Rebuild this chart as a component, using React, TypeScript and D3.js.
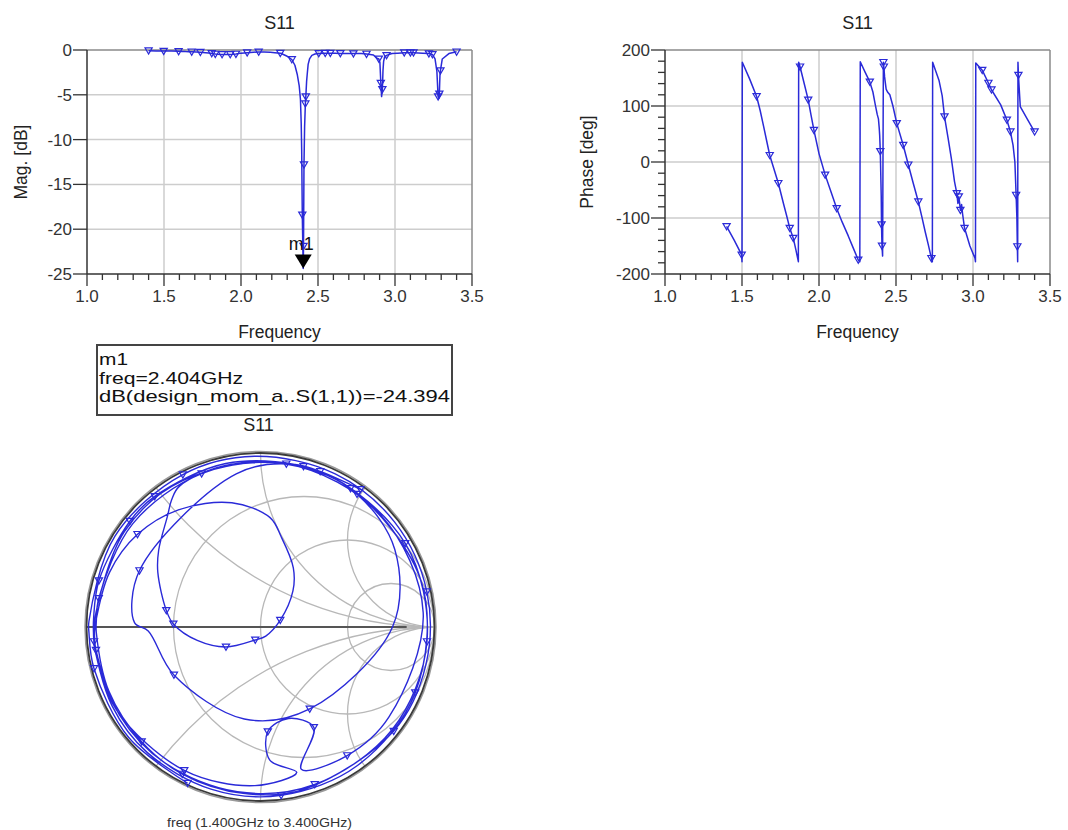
import * as d3 from "d3";

const FONT = "'Liberation Sans', Arial, Helvetica, sans-serif";
const BLUE = "#2a2ad8";
const INK = "#333";
const GRID = "#cdcdcd";

// S11 sweep: GHz, dB, degrees
const freq = [
  1.4, 1.45, 1.498, 1.5, 1.502, 1.55, 1.595, 1.618, 1.64, 1.66,
  1.68, 1.708, 1.736, 1.77, 1.79, 1.81, 1.833, 1.85, 1.866, 1.868,
  1.877, 1.903, 1.93, 1.948, 1.967, 2.0, 2.04, 2.08, 2.115, 2.15,
  2.19, 2.22, 2.255, 2.265, 2.268, 2.3, 2.33, 2.35, 2.365, 2.378,
  2.386, 2.391, 2.394, 2.398, 2.404, 2.406, 2.409, 2.413, 2.418, 2.421,
  2.426, 2.43, 2.436, 2.445, 2.46, 2.48, 2.505, 2.547, 2.58, 2.612,
  2.645, 2.668, 2.69, 2.71, 2.73, 2.736, 2.738, 2.78, 2.8, 2.815,
  2.838, 2.86, 2.88, 2.895, 2.902, 2.908, 2.913, 2.918, 2.922, 2.926, 2.932,
  2.945, 2.98, 3.013, 3.016, 3.018, 3.06, 3.1, 3.12, 3.18, 3.22,
  3.243, 3.26, 3.272, 3.28, 3.285, 3.288, 3.29, 3.292, 3.295, 3.307,
  3.35, 3.4,
];
const magDb = [
  -0.08, -0.1, -0.12, -0.12, -0.12, -0.12, -0.15, -0.16, -0.18, -0.19,
  -0.2, -0.22, -0.25, -0.3, -0.34, -0.38, -0.45, -0.48, -0.5, -0.5,
  -0.5, -0.5, -0.5, -0.48, -0.45, -0.35, -0.3, -0.25, -0.22, -0.23,
  -0.25, -0.3, -0.35, -0.4, -0.45, -0.7, -1.06, -1.7, -2.7, -4.0,
  -5.5, -8.2, -11.1, -18.4, -24.394, -21.9, -12.8, -8.6, -6.0, -5.2,
  -3.5, -2.7, -1.6, -1.0, -0.6, -0.45, -0.38, -0.35, -0.35, -0.36,
  -0.38, -0.39, -0.4, -0.4, -0.4, -0.4, -0.4, -0.4, -0.42, -0.45,
  -0.5, -0.55, -0.9, -1.0, -1.4, -3.7, -5.2, -4.4, -2.3, -1.3, -0.8,
  -0.6, -0.4, -0.35, -0.35, -0.35, -0.3, -0.3, -0.3, -0.35, -0.4,
  -0.5, -1.0, -2.4, -5.2, -5.4, -4.9, -3.8, -2.8, -2.3, -1.0,
  -0.4, -0.2,
];
const phaseDeg = [
  -115, -140, -166, -178, 178, 148, 117, 92, 64, 38,
  12, -13, -38, -75, -96, -118, -136, -157, -178, 178,
  170, 141, 111, 84, 57, 15, -23, -55, -83, -107,
  -132, -152, -175, -178, 179, 160, 143, 125, 103, 85,
  77, 61, 48, 19, -60, -112, -150, -168, 178, 170,
  152, 143, 130, 125, 120, 100, 69, 30, -5, -38,
  -71, -98, -125, -148, -172, -178, 178, 145, 118, 81,
  43, 5, -35, -56, -74, -62, -73, -86, -86, -76, -92,
  -118, -150, -172, -178, 177, 164, 141, 129, 102, 75,
  54, 30, 0, -59, -100, -151, -178, 178, 155, 99,
  78, 54,
];
// sweep points that carry a symbol
const symbolFreqs = [
  1.4, 1.498, 1.595, 1.68, 1.736, 1.81, 1.833, 1.877, 1.93, 1.967, 2.04, 2.115, 2.255, 2.33, 2.398,
  2.406, 2.409, 2.418, 2.421, 2.505, 2.547, 2.58, 2.645, 2.73, 2.815, 2.895, 2.908, 2.918, 2.945,
  3.06, 3.1, 3.12, 3.22, 3.243, 3.28, 3.288, 3.295, 3.4,
];

const freqTicks = [1.0, 1.5, 2.0, 2.5, 3.0, 3.5];
const magTicks = [0, -5, -10, -15, -20, -25];
const phaseTicks = [200, 100, 0, -100, -200];

// Smith grid: resistance circles and reactance arcs
const rCircles = [1 / 3, 1, 3];
const xArcs = [0.5, 1, 2, -0.5, -1, -2];

const markerName = "m1";
const markerFreq = 2.404;
const traceExpr = "design_mom_a..S(1,1)";

type P = { f: number; db: number; ph: number; sym: boolean };
const pts: P[] = freq.map((f, i) => ({
  f,
  db: magDb[i],
  ph: phaseDeg[i],
  sym: symbolFreqs.includes(f),
}));

const TRI = "M-3.6,-2.8L3.6,-2.8L0,3.4Z";

type Box = { l: number; r: number; t: number; b: number };

function RectPlot({
  box,
  yDomain,
  yTicks,
  yMinor,
  yLabel,
  labelX,
  value,
  children,
}: {
  box: Box;
  yDomain: [number, number];
  yTicks: number[];
  yMinor: boolean;
  yLabel: string;
  labelX: number;
  value: (d: P) => number;
  children?: (x: d3.ScaleLinear<number, number>, y: d3.ScaleLinear<number, number>) => any;
}) {
  const x = d3.scaleLinear().domain([1, 3.5]).range([box.l, box.r]);
  const y = d3.scaleLinear().domain(yDomain).range([box.b, box.t]);
  const line = d3
    .line<P>()
    .x((d) => x(d.f))
    .y((d) => y(value(d)));
  const isMajor = (arr: number[], t: number) => arr.some((m) => Math.abs(m - t) < 1e-6);
  const xMinor = x.ticks(25).filter((t) => !isMajor(freqTicks, t));
  const yMinorTicks = yMinor ? y.ticks(20).filter((t) => !isMajor(yTicks, t)) : [];
  const cx = (box.l + box.r) / 2;

  return (
    <g fontFamily={FONT}>
      <text x={cx} y={28.5} textAnchor="middle" fontSize={18} fill="#222">
        S11
      </text>
      {/* grid */}
      {freqTicks.slice(1, -1).map((t) => (
        <line key={`gx${t}`} x1={x(t)} x2={x(t)} y1={box.t} y2={box.b} stroke={GRID} strokeWidth={1.5} />
      ))}
      {yTicks.slice(1, -1).map((t) => (
        <line key={`gy${t}`} x1={box.l} x2={box.r} y1={y(t)} y2={y(t)} stroke={GRID} strokeWidth={1.5} />
      ))}
      {/* frame */}
      <line x1={box.l} x2={box.r} y1={box.t} y2={box.t} stroke="#8a8a8a" strokeWidth={1.5} />
      <line x1={box.r} x2={box.r} y1={box.t} y2={box.b} stroke="#8a8a8a" strokeWidth={1.5} />
      <line x1={box.l} x2={box.l} y1={box.t} y2={box.b} stroke={INK} strokeWidth={1.5} />
      <line x1={box.l} x2={box.r} y1={box.b} y2={box.b} stroke={INK} strokeWidth={1.5} />
      {/* y ticks */}
      {yTicks.map((t) => (
        <g key={`yt${t}`}>
          <line x1={box.l - 14} x2={box.l} y1={y(t)} y2={y(t)} stroke={INK} strokeWidth={1.3} />
          <text x={box.l - 15} y={y(t) + 6} textAnchor="end" fontSize={17} fill={INK}>
            {t}
          </text>
        </g>
      ))}
      {yMinorTicks.map((t) => (
        <line key={`ym${t}`} x1={box.l - 7} x2={box.l} y1={y(t)} y2={y(t)} stroke={INK} strokeWidth={1.3} />
      ))}
      {/* x ticks */}
      {freqTicks.map((t) => (
        <g key={`xt${t}`}>
          <line x1={x(t)} x2={x(t)} y1={box.b} y2={box.b + 12} stroke={INK} strokeWidth={1.3} />
          <text x={x(t)} y={302} textAnchor="middle" fontSize={17} fill={INK}>
            {t.toFixed(1)}
          </text>
        </g>
      ))}
      {xMinor.map((t) => (
        <line key={`xm${t}`} x1={x(t)} x2={x(t)} y1={box.b} y2={box.b + 6} stroke={INK} strokeWidth={1.3} />
      ))}
      <text x={cx} y={338} textAnchor="middle" fontSize={17.5} fill="#222">
        Frequency
      </text>
      <text
        transform={`translate(${labelX},${(box.t + box.b) / 2}) rotate(-90)`}
        textAnchor="middle"
        dominantBaseline="central"
        fontSize={17.5}
        fill="#222"
      >
        {yLabel}
      </text>
      {/* trace */}
      <path d={line(pts) ?? ""} fill="none" stroke={BLUE} strokeWidth={1.5} strokeLinejoin="round" />
      {pts
        .filter((d) => d.sym)
        .map((d) => (
          <path
            key={`s${d.f}`}
            d={TRI}
            transform={`translate(${x(d.f)},${y(value(d))})`}
            fill="none"
            stroke={BLUE}
            strokeWidth={1.2}
          />
        ))}
      {children && children(x, y)}
    </g>
  );
}

function SmithChart({ cx, cy, R }: { cx: number; cy: number; R: number }) {
  const gx = d3.scaleLinear().domain([-1, 1]).range([cx - R, cx + R]);
  const gy = d3.scaleLinear().domain([-1, 1]).range([cy + R, cy - R]);
  const gamma = pts.map((d) => {
    const m = Math.pow(10, d.db / 20);
    const a = (d.ph * Math.PI) / 180;
    return { re: m * Math.cos(a), im: m * Math.sin(a), sym: d.sym, f: d.f };
  });
  const line = d3
    .line<{ re: number; im: number }>()
    .x((d) => gx(d.re))
    .y((d) => gy(d.im))
    .curve(d3.curveCatmullRom.alpha(0.5));
  const k = R; // pixels per unit of gamma

  return (
    <g fontFamily={FONT}>
      <text x={cx - 2} y={431} textAnchor="middle" fontSize={18} fill="#222">
        S11
      </text>
      <defs>
        <clipPath id="smith-clip">
          <circle cx={cx} cy={cy} r={R} />
        </clipPath>
      </defs>
      <g clipPath="url(#smith-clip)" fill="none" stroke="#b8b8b8" strokeWidth={1.3}>
        {rCircles.map((r) => (
          <circle key={`r${r}`} cx={gx(r / (1 + r))} cy={cy} r={k / (1 + r)} />
        ))}
        {xArcs.map((xv) => (
          <circle key={`x${xv}`} cx={gx(1)} cy={gy(1 / xv)} r={k / Math.abs(xv)} />
        ))}
        <line x1={gx(-1)} x2={gx(1)} y1={cy} y2={cy} />
      </g>
      <line x1={gx(-1)} x2={gx(0.84)} y1={cy} y2={cy} stroke="#555" strokeWidth={2} />
      <circle cx={cx} cy={cy} r={R + 1.5} fill="none" stroke="#9a9a9a" strokeWidth={1.5} />
      <circle cx={cx} cy={cy} r={R} fill="none" stroke="#3a3a3a" strokeWidth={1.8} />
      <path d={line(gamma) ?? ""} fill="none" stroke={BLUE} strokeWidth={1.4} strokeLinejoin="round" />
      {gamma
        .filter((d) => d.sym)
        .map((d) => (
          <path
            key={`ss${d.f}`}
            d={TRI}
            transform={`translate(${gx(d.re)},${gy(d.im)})`}
            fill="none"
            stroke={BLUE}
            strokeWidth={1.2}
          />
        ))}
      <text x={cx - 1} y={827} textAnchor="middle" fontSize={13} fill="#333" textLength={185} lengthAdjust="spacingAndGlyphs">
        {`freq (${d3.format(".3f")(freq[0])}GHz to ${d3.format(".3f")(freq[freq.length - 1])}GHz)`}
      </text>
    </g>
  );
}

export default function App() {
  const m = pts.find((d) => d.f === markerFreq)!;
  const lines = [markerName, `freq=${m.f.toFixed(3)}GHz`, `dB(${traceExpr})=${m.db.toFixed(3)}`];
  const lineWidths = [29, 144, 351];
  return (
    <svg
      width={1068}
      height={830}
      viewBox="0 0 1068 830"
      style={{ position: "absolute", left: 0, top: 0, background: "#fff" }}
    >
      <rect width={1068} height={830} fill="#fff" />
      <RectPlot
        box={{ l: 87, r: 472, t: 50, b: 274 }}
        yDomain={[-25, 0]}
        yTicks={magTicks}
        yMinor={false}
        yLabel="Mag. [dB]"
        labelX={21}
        value={(d) => d.db}
      >
        {(x, y) => (
          <g>
            <path
              d={`M${x(m.f) - 8.5},${y(m.db) - 14}L${x(m.f) + 8.5},${y(m.db) - 14}L${x(m.f)},${y(m.db)}Z`}
              fill="#000"
            />
            <text x={x(m.f) - 2} y={y(m.db) - 18.5} textAnchor="middle" fontSize={18} fill="#111" fontFamily={FONT}>
              {markerName}
            </text>
          </g>
        )}
      </RectPlot>
      <RectPlot
        box={{ l: 665, r: 1050, t: 50, b: 274 }}
        yDomain={[-200, 200]}
        yTicks={phaseTicks}
        yMinor={true}
        yLabel="Phase [deg]"
        labelX={587}
        value={(d) => d.ph}
      />
      {/* marker readout */}
      <g fontFamily={FONT}>
        <rect x={97} y={345} width={355} height={70} fill="#fff" stroke="#444" strokeWidth={2} />
        {lines.map((s, i) => (
          <text
            key={s}
            x={99}
            y={365 + i * 18.5}
            fontSize={17}
            fill="#111"
            textLength={lineWidths[i]}
            lengthAdjust="spacingAndGlyphs"
          >
            {s}
          </text>
        ))}
      </g>
      <SmithChart cx={260.5} cy={627} R={174} />
    </svg>
  );
}
